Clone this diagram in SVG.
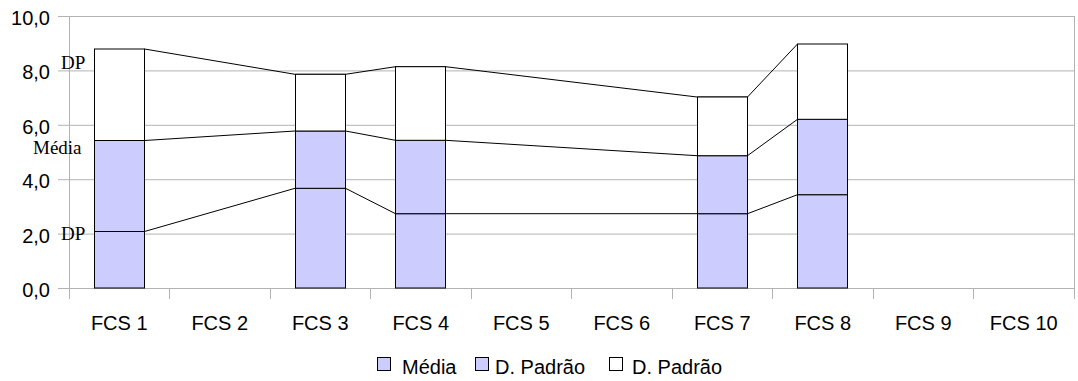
<svg xmlns="http://www.w3.org/2000/svg" width="1078" height="381" viewBox="0 0 1078 381">
<style>
.grid{stroke:#b3b3b3;stroke-width:1;fill:none}
.lbl{font-family:"Liberation Sans",Arial,sans-serif;font-size:20px;fill:#000}
.ylbl{text-anchor:end}
.cat{text-anchor:middle}
.ser{font-family:"Liberation Serif","Times New Roman",serif;font-size:19px;fill:#000}
.b{fill:#ccccff;stroke:#000;stroke-width:1}
.w{fill:#fff;stroke:#000;stroke-width:1}
.conn{stroke:#000;stroke-width:1;fill:none}
</style>
<rect width="1078" height="381" fill="#fff"/>
<g id="grid">
<path class="grid" d="M58 16.5H1074M58 70.9H1074M58 125.3H1074M58 179.7H1074M58 234.1H1074M58 288.5H1074"/>
<path class="grid" d="M69.5 16V299M1074.5 16V299M169.5 288V299M270.5 288V299M370.5 288V299M471.5 288V299M571.5 288V299M672.5 288V299M772.5 288V299M873.5 288V299M973.5 288V299"/>
</g>
<g id="yaxis">
<text class="lbl ylbl" x="50" y="25">10,0</text>
<text class="lbl ylbl" x="50" y="79.4">8,0</text>
<text class="lbl ylbl" x="50" y="133.8">6,0</text>
<text class="lbl ylbl" x="50" y="188.2">4,0</text>
<text class="lbl ylbl" x="50" y="242.6">2,0</text>
<text class="lbl ylbl" x="50" y="297">0,0</text>
</g>
<g id="xaxis">
<text class="lbl cat" x="119.25" y="330">FCS 1</text>
<text class="lbl cat" x="219.75" y="330">FCS 2</text>
<text class="lbl cat" x="320.25" y="330">FCS 3</text>
<text class="lbl cat" x="420.75" y="330">FCS 4</text>
<text class="lbl cat" x="521.25" y="330">FCS 5</text>
<text class="lbl cat" x="621.75" y="330">FCS 6</text>
<text class="lbl cat" x="722.25" y="330">FCS 7</text>
<text class="lbl cat" x="822.75" y="330">FCS 8</text>
<text class="lbl cat" x="923.25" y="330">FCS 9</text>
<text class="lbl cat" x="1023.75" y="330">FCS 10</text>
</g>
<g id="connectors">
<polyline class="conn" points="144.5,231.5 295,188.3 345.5,188.3 395.5,213.7 445.5,213.7 697,213.7 747.5,213.7 797.5,194.7"/>
<polyline class="conn" points="144.5,140.5 295,131 345.5,131 395.5,140.3 445.5,140.3 697,155.7 747.5,155.7 797.5,119.3"/>
<polyline class="conn" points="144.5,49 295,74.3 345.5,74.3 395.5,66.7 445.5,66.7 697,97 747.5,97 797.5,44"/>
</g>
<g id="bar-fcs1">
<rect class="b" x="94.5" y="231.5" width="50" height="56.5"/>
<rect class="b" x="94.5" y="140.5" width="50" height="91"/>
<rect class="w" x="94.5" y="49" width="50" height="91.5"/>
</g>
<g id="bar-fcs3">
<rect class="b" x="295.5" y="188.3" width="50" height="99.7"/>
<rect class="b" x="295.5" y="131" width="50" height="57.3"/>
<rect class="w" x="295.5" y="74.3" width="50" height="56.7"/>
</g>
<g id="bar-fcs4">
<rect class="b" x="395.5" y="213.7" width="50" height="74.3"/>
<rect class="b" x="395.5" y="140.3" width="50" height="73.4"/>
<rect class="w" x="395.5" y="66.7" width="50" height="73.6"/>
</g>
<g id="bar-fcs7">
<rect class="b" x="697.5" y="213.7" width="50" height="74.3"/>
<rect class="b" x="697.5" y="155.7" width="50" height="58"/>
<rect class="w" x="697.5" y="97" width="50" height="58.7"/>
</g>
<g id="bar-fcs8">
<rect class="b" x="797.5" y="194.7" width="50" height="93.3"/>
<rect class="b" x="797.5" y="119.3" width="50" height="75.4"/>
<rect class="w" x="797.5" y="44" width="50" height="75.3"/>
</g>
<g id="annotations">
<text class="ser" x="61" y="69">DP</text>
<text class="ser" x="33" y="154">Média</text>
<text class="ser" x="61" y="240">DP</text>
</g>
<g id="legend">
<rect class="b" x="377.5" y="357.5" width="13" height="13"/>
<text class="lbl" x="402" y="374">Média</text>
<rect class="b" x="475.5" y="357.5" width="13" height="13"/>
<text class="lbl" x="495" y="374">D. Padrão</text>
<rect class="w" x="609.5" y="357.5" width="13" height="13"/>
<text class="lbl" x="632" y="374">D. Padrão</text>
</g>
</svg>
